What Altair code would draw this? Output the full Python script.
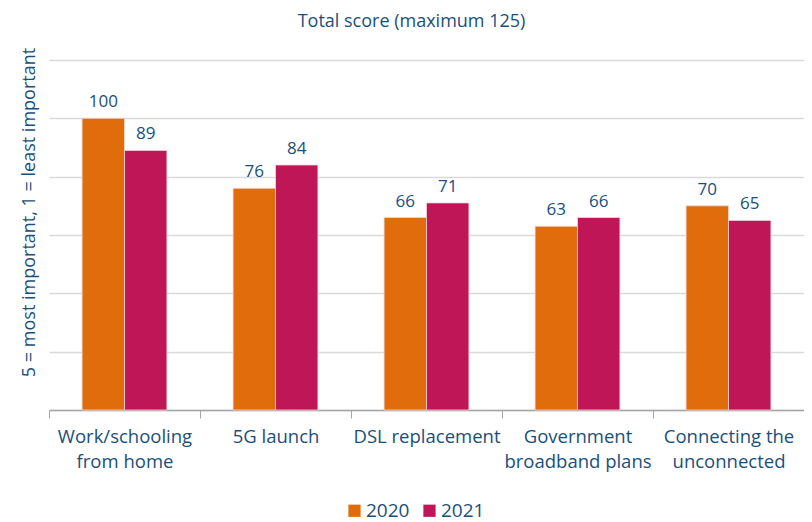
import altair as alt
import pandas as pd

categories = ["Work/schooling|from home", "5G launch", "DSL replacement",
              "Government|broadband plans", "Connecting the|unconnected"]
years = ["2020", "2021"]
values_2020 = [100, 76, 66, 63, 70]
values_2021 = [89, 84, 71, 66, 65]

rows = []
for c, a, b in zip(categories, values_2020, values_2021):
    rows.append({"cat": c, "year": "2020", "value": a})
    rows.append({"cat": c, "year": "2021", "value": b})
df = pd.DataFrame(rows)

BLUE = "#1a4f7c"
FONT = "Open Sans"
colors = ["#e06c0b", "#be1657"]

x = alt.X("cat:N", sort=categories,
          scale=alt.Scale(paddingInner=0, paddingOuter=0),
          axis=alt.Axis(title=None, labelExpr="split(datum.label, '|')",
                        labelAngle=0, labelFont=FONT, labelFontSize=18.5,
                        labelColor=BLUE, labelLineHeight=25, labelPadding=9,
                        tickBand="extent", tickColor="#a6a6a6", tickSize=8,
                        domainColor="#a6a6a6", domainWidth=1.5, grid=False))
xo = alt.XOffset("year:N", sort=years,
                 scale=alt.Scale(paddingInner=0, paddingOuter=0.78))
y = alt.Y("value:Q", scale=alt.Scale(domain=[0, 120], nice=False),
          axis=alt.Axis(title="5 = most important, 1 = least important",
                        values=[0, 20, 40, 60, 80, 100, 120], labels=False,
                        ticks=False, domain=False, gridColor="#d9d9d9",
                        gridWidth=1.5, titleFont=FONT, titleFontSize=18,
                        titleFontWeight="normal", titleColor=BLUE,
                        titlePadding=11, titleY=152))

base = alt.Chart(df).encode(x=x, xOffset=xo)

bars = base.mark_bar(stroke="#f3d6d6", strokeWidth=0.8).encode(
    y=y,
    color=alt.Color("year:N", sort=years,
                    scale=alt.Scale(domain=years, range=colors),
                    legend=alt.Legend(title=None, orient="none", direction="horizontal",
                                      legendX=296, legendY=441,
                                      symbolType="square", symbolSize=150,
                                      symbolStrokeWidth=0, labelFont=FONT,
                                      labelFontSize=19, labelColor=BLUE,
                                      columnPadding=10, labelOffset=2)),
)

labels = base.mark_text(dy=-16, font=FONT, fontSize=17, color=BLUE).encode(
    y="value:Q", text="value:Q")

chart = (bars + labels).properties(
    width=755, height=350,
    padding={"left": 41, "top": 52, "right": 0, "bottom": 112},
    autosize=alt.AutoSizeParams(type="none"),
    title=alt.TitleParams("Total score (maximum 125)", font=FONT, fontSize=18,
                          fontWeight="normal", color=BLUE, offset=16, dx=-15),
).configure_view(stroke=None)

chart.save("out.html", embed_options={"renderer": "svg", "actions": False})
